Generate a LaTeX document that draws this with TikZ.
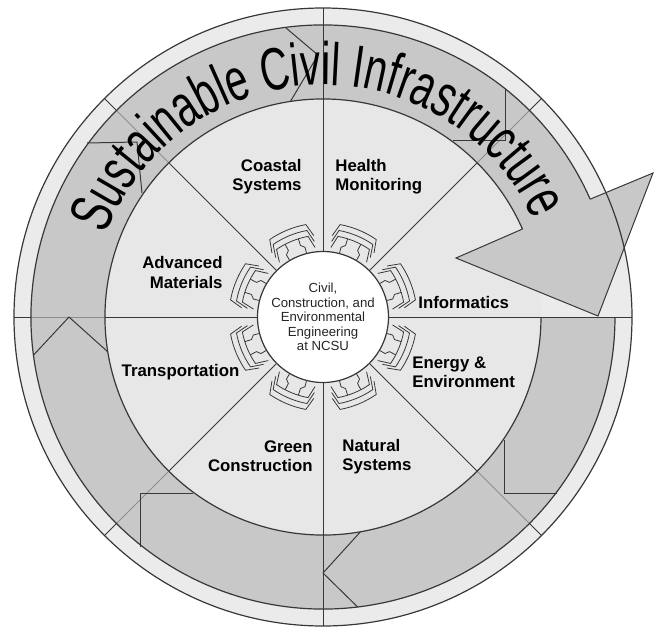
\documentclass[tikz,border=0pt]{standalone}
\usepackage{fontspec}
\setmainfont{Liberation Sans}
\newfontfamily\titlefont[FakeStretch=0.67]{Liberation Sans}
\usetikzlibrary{decorations.text}

\definecolor{ringgray}{HTML}{EBEBEB}
\definecolor{diskgray}{HTML}{E7E7E7}
\definecolor{bandgray}{HTML}{C8C8C8}
\definecolor{linegray}{HTML}{383838}
\definecolor{faintline}{HTML}{8E8E8E}

\begin{document}
\begin{tikzpicture}[x=0.5pt,y=0.5pt,
  rim/.style={draw=linegray,line width=0.6pt},
  spoke/.style={draw=linegray,line width=0.45pt},
  spokefaint/.style={draw=faintline,line width=0.45pt},
  seam/.style={draw=linegray,line width=0.5pt,line join=miter},
  bracket/.style={draw=linegray,line width=0.4pt},
  topic/.style={font=\bfseries\fontsize{8.4}{9.6}\selectfont,inner sep=0pt},
  hub/.style={circle,fill=white,draw=linegray,line width=0.6pt,minimum size=65.5pt,
    inner sep=0pt,align=center,text=black!85,font=\fontsize{6.6}{7.25}\selectfont}
]
\useasboundingbox (-323,-311) rectangle (331,317);

% outer ring and inner disk
\fill[ringgray] (0,0) circle[radius=309];
\fill[diskgray] (0,0) circle[radius=218];

% circular band carrying the arrow
\fill[bandgray] (23.8:292) arc[start angle=23.8,end angle=360,radius=292]
  -- (0:218) arc[start angle=360,end angle=23.8,radius=218] -- cycle;

% arrowhead
\coordinate (headin) at (23.8:218);
\coordinate (barbin) at (133,59);
\coordinate (tip) at (275,1);
\coordinate (barbout) at (330,144);
\coordinate (headout) at (23.8:292);
\fill[bandgray] (headin) -- (barbin) -- (tip) -- (barbout) -- (headout) -- cycle;
\draw[seam] (headin) -- (barbin) -- (tip) -- (barbout) -- (headout);

% spokes between the sectors
\foreach \a in {0,45,...,315} {
  \draw[spoke] (\a:65.5) -- (\a:218);
  \draw[spoke] (\a:292) -- (\a:309);
}
\foreach \a in {45,135,180,225,315} \draw[spokefaint] (\a:218) -- (\a:292);
\foreach \a in {0,90,270} \draw[spoke] (\a:218) -- (\a:292);

% chevron joints of the band
\draw[seam] (97.4:292) -- (91.1:262) -- (98.6:218);
\draw[seam] (187.5:292) -- (180:254) -- (189.2:218);
\draw[seam] (276.8:292) -- (270:256) -- (279.9:218);

% folded corners of the band
\draw[seam] (182,227) -- (182,177) -- (130,177);
\draw[seam] (-236,174) -- (-186,175) -- (-181,124);
\draw[seam] (-182,-230) -- (-182,-176) -- (-130,-176);
\draw[seam] (234,-176) -- (181,-176) -- (181,-123);

% circles
\draw[rim] (0,0) circle[radius=309];
\draw[rim] (23.8:292) arc[start angle=23.8,end angle=360,radius=292];
\draw[rim] (23.8:218) arc[start angle=23.8,end angle=360,radius=218];

% central hub
\node[hub] (hub) at (0,0) {Civil,\\Construction, and\\Environmental\\Engineering\\at NCSU};

% connectors around the hub
\foreach \c in {22.5,67.5,...,337.5} {
  \foreach \r in {82,88,94} {
    \draw[bracket] ({\c-16}:{\r-12}) -- ({\c-12}:\r)
      arc[start angle={\c-12},end angle={\c+12},radius=\r] -- ({\c+16}:{\r-12});
  }
  \draw[bracket] ({\c-8}:65.5) -- ({\c-8}:72) -- ({\c-5}:75) -- ({\c-5}:82);
  \draw[bracket] ({\c+8}:65.5) -- ({\c+8}:72) -- ({\c+5}:75) -- ({\c+5}:82);
}

% sector topics
\node[topic,anchor=east,align=right] (coastal) at (-21,140.5) {Coastal\\Systems};
\node[topic,anchor=west,align=left] (health) at (12,140.5) {Health\\Monitoring};
\node[topic,anchor=east,align=right] (advanced) at (-100,44.5) {Advanced\\Materials};
\node[topic,anchor=west] (informatics) at (95,15) {Informatics};
\node[topic,anchor=west,align=left] (energy) at (89,-55) {Energy \&\\Environment};
\node[topic] (transport) at (-142.5,-55) {Transportation};
\node[topic,anchor=east,align=right] (green) at (-10,-139.5) {Green\\Construction};
\node[topic,anchor=west,align=left] (natural) at (19,-139.5) {Natural\\Systems};

% title along the band
\path[decorate,decoration={text along path,text align=center,
  text={|\titlefont\fontsize{30}{30}\selectfont|Sustainable Civil Infrastructure}}]
  (180:232) arc[start angle=180,end angle=4,radius=232];
\end{tikzpicture}
\end{document}
